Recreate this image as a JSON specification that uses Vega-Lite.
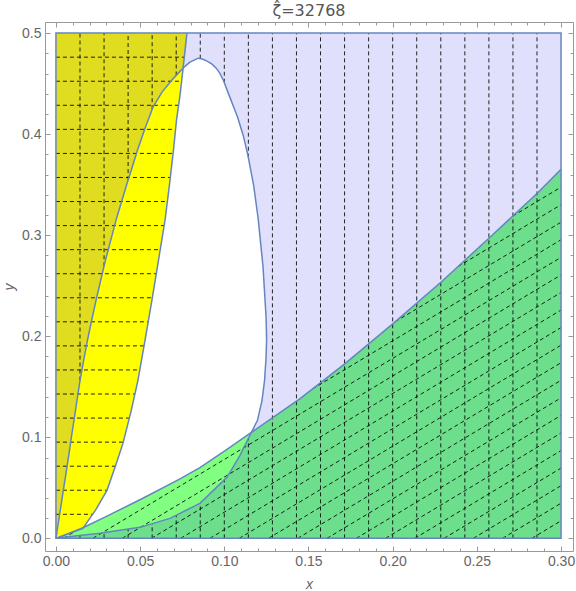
{
  "$schema": "https://vega.github.io/schema/vega-lite/v6.json",
  "width": 528,
  "height": 529,
  "autosize": {"type": "none"},
  "padding": {"left": 45, "top": 22, "right": 3, "bottom": 40},
  "title": {"text": "ζ̂=32768", "fontSize": 16, "font": "DejaVu Sans", "fontWeight": "normal", "color": "#555555", "offset": 3},
  "config": {"view": {"stroke": null}, "axis": {"grid": false}},
  "datasets": {
    "rect": [{"x1": 0, "x2": 0.3, "y1": 0, "y2": 0.5}],
    "G": [
      {"x": 0, "y": 0}, {"x": 0.008, "y": 0.0052}, {"x": 0.016, "y": 0.0105}, {"x": 0.03, "y": 0.0218},
      {"x": 0.0499, "y": 0.0382}, {"x": 0.0737, "y": 0.0588}, {"x": 0.0855, "y": 0.07}, {"x": 0.1016, "y": 0.088},
      {"x": 0.1152, "y": 0.1038}, {"x": 0.145, "y": 0.1383}, {"x": 0.1717, "y": 0.173}, {"x": 0.2002, "y": 0.2125},
      {"x": 0.2293, "y": 0.2545}, {"x": 0.2578, "y": 0.298}, {"x": 0.2857, "y": 0.3412}, {"x": 0.3, "y": 0.3652}
    ],
    "L": [
      {"x": 0, "x0": 0, "y": 0}, {"x": 0.016, "x0": 0, "y": 0.0099}, {"x": 0.0238, "x0": 0, "y": 0.0287}, {"x": 0.0303, "x0": 0, "y": 0.0475},
      {"x": 0.0353, "x0": 0, "y": 0.0713}, {"x": 0.0398, "x0": 0, "y": 0.094}, {"x": 0.0446, "x0": 0, "y": 0.1257}, {"x": 0.0487, "x0": 0, "y": 0.1564},
      {"x": 0.0529, "x0": 0, "y": 0.196}, {"x": 0.057, "x0": 0, "y": 0.2356}, {"x": 0.0609, "x0": 0, "y": 0.2752}, {"x": 0.0648, "x0": 0, "y": 0.3149},
      {"x": 0.0674, "x0": 0, "y": 0.3495}, {"x": 0.0698, "x0": 0, "y": 0.3842}, {"x": 0.0716, "x0": 0, "y": 0.4139}, {"x": 0.0737, "x0": 0, "y": 0.4386},
      {"x": 0.0754, "x0": 0, "y": 0.4634}, {"x": 0.0778, "x0": 0, "y": 0.5}
    ],
    "T": [
      {"y": 0, "xl": 0, "xr": 0}, {"y": 0.002, "xl": 0.0002, "xr": 0.0101}, {"y": 0.005, "xl": 0.0005, "xr": 0.0261},
      {"y": 0.0109, "xl": 0.001, "xr": 0.0499}, {"y": 0.0198, "xl": 0.0018, "xr": 0.0677}, {"y": 0.0347, "xl": 0.0032, "xr": 0.0855},
      {"y": 0.0574, "xl": 0.0053, "xr": 0.0997}, {"y": 0.0604, "xl": 0.0056, "xr": 0.1016}, {"y": 0.0822, "xl": 0.0076, "xr": 0.1093},
      {"y": 0.104, "xl": 0.0095, "xr": 0.1158}, {"y": 0.1069, "xl": 0.0098, "xr": 0.1167}, {"y": 0.1168, "xl": 0.0107, "xr": 0.1197},
      {"y": 0.1366, "xl": 0.0125, "xr": 0.1224}, {"y": 0.1564, "xl": 0.0143, "xr": 0.1239}, {"y": 0.1792, "xl": 0.0168, "xr": 0.1248},
      {"y": 0.196, "xl": 0.0187, "xr": 0.1251}, {"y": 0.199, "xl": 0.0191, "xr": 0.1251}, {"y": 0.2188, "xl": 0.0216, "xr": 0.1248},
      {"y": 0.2356, "xl": 0.0238, "xr": 0.1242}, {"y": 0.2683, "xl": 0.0284, "xr": 0.123}, {"y": 0.2752, "xl": 0.0294, "xr": 0.1226},
      {"y": 0.3149, "xl": 0.0357, "xr": 0.1202}, {"y": 0.3178, "xl": 0.0362, "xr": 0.12}, {"y": 0.3495, "xl": 0.0419, "xr": 0.1174},
      {"y": 0.3792, "xl": 0.0475, "xr": 0.114}, {"y": 0.3842, "xl": 0.0484, "xr": 0.1133}, {"y": 0.399, "xl": 0.0515, "xr": 0.1112},
      {"y": 0.4059, "xl": 0.0529, "xr": 0.1099}, {"y": 0.4168, "xl": 0.0554, "xr": 0.1079}, {"y": 0.4267, "xl": 0.0576, "xr": 0.1056},
      {"y": 0.4327, "xl": 0.0598, "xr": 0.1042}, {"y": 0.4416, "xl": 0.063, "xr": 0.1021}, {"y": 0.4426, "xl": 0.0635, "xr": 0.1019},
      {"y": 0.4535, "xl": 0.0689, "xr": 0.0994}, {"y": 0.4604, "xl": 0.0727, "xr": 0.0973}, {"y": 0.4653, "xl": 0.0754, "xr": 0.0952},
      {"y": 0.4693, "xl": 0.0782, "xr": 0.0927}, {"y": 0.4713, "xl": 0.0796, "xr": 0.0907}, {"y": 0.4723, "xl": 0.0808, "xr": 0.0897},
      {"y": 0.4743, "xl": 0.0833, "xr": 0.087}, {"y": 0.4752, "xl": 0.0844, "xr": 0.0844}
    ],
    "Y": [
      {"y": 0, "xl": 0, "xr": 0}, {"y": 0.0099, "xl": 0.0009, "xr": 0.016}, {"y": 0.0287, "xl": 0.0026, "xr": 0.0238},
      {"y": 0.0475, "xl": 0.0044, "xr": 0.0303}, {"y": 0.0713, "xl": 0.0066, "xr": 0.0353}, {"y": 0.094, "xl": 0.0086, "xr": 0.0398},
      {"y": 0.1257, "xl": 0.0115, "xr": 0.0446}, {"y": 0.1564, "xl": 0.0143, "xr": 0.0487}, {"y": 0.196, "xl": 0.0187, "xr": 0.0529},
      {"y": 0.2356, "xl": 0.0238, "xr": 0.057}, {"y": 0.2752, "xl": 0.0294, "xr": 0.0609}, {"y": 0.3149, "xl": 0.0357, "xr": 0.0648},
      {"y": 0.3495, "xl": 0.0419, "xr": 0.0674}, {"y": 0.3842, "xl": 0.0484, "xr": 0.0698}, {"y": 0.4139, "xl": 0.0547, "xr": 0.0716},
      {"y": 0.4267, "xl": 0.0576, "xr": 0.0727}, {"y": 0.4386, "xl": 0.0619, "xr": 0.0737}, {"y": 0.4535, "xl": 0.0689, "xr": 0.0747},
      {"y": 0.4634, "xl": 0.0744, "xr": 0.0754}, {"y": 0.4655, "xl": 0.0755, "xr": 0.0755}
    ],
    "BG": [
      {"x": 0, "yt": 0, "yb": 0}, {"x": 0.0101, "yt": 0.0066, "yb": 0.002}, {"x": 0.016, "yt": 0.0105, "yb": 0.0031},
      {"x": 0.0261, "yt": 0.0187, "yb": 0.005}, {"x": 0.0499, "yt": 0.0382, "yb": 0.0109}, {"x": 0.0677, "yt": 0.0536, "yb": 0.0198},
      {"x": 0.0737, "yt": 0.0588, "yb": 0.0248}, {"x": 0.0855, "yt": 0.07, "yb": 0.0347}, {"x": 0.1016, "yt": 0.088, "yb": 0.0604},
      {"x": 0.1093, "yt": 0.0969, "yb": 0.0822}, {"x": 0.1152, "yt": 0.1038, "yb": 0.102}, {"x": 0.1156, "yt": 0.1041, "yb": 0.1041}
    ],
    "mesh": [
      {"x1": 0.014286, "y1": 0, "x2": 0.014286, "y2": 0.0028}, {"x1": 0.014286, "y1": 0.1562, "x2": 0.014286, "y2": 0.5},
      {"x1": 0.028571, "y1": 0, "x2": 0.028571, "y2": 0.0056}, {"x1": 0.028571, "y1": 0.2693, "x2": 0.028571, "y2": 0.5},
      {"x1": 0.042857, "y1": 0, "x2": 0.042857, "y2": 0.0092}, {"x1": 0.042857, "y1": 0.3546, "x2": 0.042857, "y2": 0.5},
      {"x1": 0.057143, "y1": 0, "x2": 0.057143, "y2": 0.0145}, {"x1": 0.057143, "y1": 0.4247, "x2": 0.057143, "y2": 0.5},
      {"x1": 0.071429, "y1": 0, "x2": 0.071429, "y2": 0.0229}, {"x1": 0.071429, "y1": 0.4581, "x2": 0.071429, "y2": 0.5},
      {"x1": 0.085714, "y1": 0, "x2": 0.085714, "y2": 0.035}, {"x1": 0.085714, "y1": 0.4747, "x2": 0.085714, "y2": 0.5},
      {"x1": 0.1, "y1": 0, "x2": 0.1, "y2": 0.0578}, {"x1": 0.1, "y1": 0.4509, "x2": 0.1, "y2": 0.5},
      {"x1": 0.114286, "y1": 0, "x2": 0.114286, "y2": 0.0989}, {"x1": 0.114286, "y1": 0.3767, "x2": 0.114286, "y2": 0.5},
      {"x1": 0.128571, "y1": 0, "x2": 0.128571, "y2": 0.5}, {"x1": 0.142857, "y1": 0, "x2": 0.142857, "y2": 0.5},
      {"x1": 0.157143, "y1": 0, "x2": 0.157143, "y2": 0.5}, {"x1": 0.171429, "y1": 0, "x2": 0.171429, "y2": 0.5},
      {"x1": 0.185714, "y1": 0, "x2": 0.185714, "y2": 0.5}, {"x1": 0.2, "y1": 0, "x2": 0.2, "y2": 0.5},
      {"x1": 0.214286, "y1": 0, "x2": 0.214286, "y2": 0.5}, {"x1": 0.228571, "y1": 0, "x2": 0.228571, "y2": 0.5},
      {"x1": 0.242857, "y1": 0, "x2": 0.242857, "y2": 0.5}, {"x1": 0.257143, "y1": 0, "x2": 0.257143, "y2": 0.5},
      {"x1": 0.271429, "y1": 0, "x2": 0.271429, "y2": 0.5}, {"x1": 0.285714, "y1": 0, "x2": 0.285714, "y2": 0.5},
      {"x1": 0, "y1": 0.02381, "x2": 0.0218, "y2": 0.02381}, {"x1": 0, "y1": 0.04762, "x2": 0.0303, "y2": 0.04762},
      {"x1": 0, "y1": 0.07143, "x2": 0.0353, "y2": 0.07143}, {"x1": 0, "y1": 0.09524, "x2": 0.04, "y2": 0.09524},
      {"x1": 0, "y1": 0.11905, "x2": 0.0436, "y2": 0.11905}, {"x1": 0, "y1": 0.14286, "x2": 0.0469, "y2": 0.14286},
      {"x1": 0, "y1": 0.16667, "x2": 0.0498, "y2": 0.16667}, {"x1": 0, "y1": 0.19048, "x2": 0.0523, "y2": 0.19048},
      {"x1": 0, "y1": 0.21429, "x2": 0.0548, "y2": 0.21429}, {"x1": 0, "y1": 0.2381, "x2": 0.0572, "y2": 0.2381},
      {"x1": 0, "y1": 0.2619, "x2": 0.0596, "y2": 0.2619}, {"x1": 0, "y1": 0.28571, "x2": 0.0619, "y2": 0.28571},
      {"x1": 0, "y1": 0.30952, "x2": 0.0643, "y2": 0.30952}, {"x1": 0, "y1": 0.33333, "x2": 0.0662, "y2": 0.33333},
      {"x1": 0, "y1": 0.35714, "x2": 0.0679, "y2": 0.35714}, {"x1": 0, "y1": 0.38095, "x2": 0.0696, "y2": 0.38095},
      {"x1": 0, "y1": 0.40476, "x2": 0.071, "y2": 0.40476}, {"x1": 0, "y1": 0.42857, "x2": 0.0728, "y2": 0.42857},
      {"x1": 0, "y1": 0.45238, "x2": 0.0749, "y2": 0.45238}, {"x1": 0, "y1": 0.47619, "x2": 0.0762, "y2": 0.47619},
      {"x1": 0.28262, "y1": 0, "x2": 0.3, "y2": 0.01738}, {"x1": 0.26524, "y1": 0, "x2": 0.3, "y2": 0.03476},
      {"x1": 0.24786, "y1": 0, "x2": 0.3, "y2": 0.05214}, {"x1": 0.23048, "y1": 0, "x2": 0.3, "y2": 0.06952},
      {"x1": 0.2131, "y1": 0, "x2": 0.3, "y2": 0.0869}, {"x1": 0.19571, "y1": 0, "x2": 0.3, "y2": 0.10429},
      {"x1": 0.17833, "y1": 0, "x2": 0.3, "y2": 0.12167}, {"x1": 0.16095, "y1": 0, "x2": 0.3, "y2": 0.13905},
      {"x1": 0.14357, "y1": 0, "x2": 0.3, "y2": 0.15643}, {"x1": 0.12619, "y1": 0, "x2": 0.3, "y2": 0.17381},
      {"x1": 0.10881, "y1": 0, "x2": 0.3, "y2": 0.19119}, {"x1": 0.09143, "y1": 0, "x2": 0.3, "y2": 0.20857},
      {"x1": 0.07405, "y1": 0, "x2": 0.3, "y2": 0.22595}, {"x1": 0.05667, "y1": 0, "x2": 0.3, "y2": 0.24333},
      {"x1": 0.03929, "y1": 0, "x2": 0.3, "y2": 0.26071}, {"x1": 0.0219, "y1": 0, "x2": 0.3, "y2": 0.2781},
      {"x1": 0.00452, "y1": 0, "x2": 0.0131, "y2": 0.0086}, {"x1": 0.1523, "y1": 0.1478, "x2": 0.3, "y2": 0.2955},
      {"x1": 0.2015, "y1": 0.2144, "x2": 0.3, "y2": 0.3129}, {"x1": 0.2389, "y1": 0.2691, "x2": 0.3, "y2": 0.3302},
      {"x1": 0.2713, "y1": 0.3189, "x2": 0.3, "y2": 0.3476}
    ]
  },
  "resolve": {"axis": {"x": "independent", "y": "independent"}},
  "layer": [
    {
      "data": {"name": "rect"},
      "mark": {"type": "rect", "fill": "#e0e0fc"},
      "encoding": {
        "x": {"field": "x1", "type": "quantitative", "scale": {"domain": [-0.0065, 0.3071], "nice": false, "zero": false},
          "axis": {"orient": "bottom", "values": [0, 0.05, 0.1, 0.15, 0.2, 0.25, 0.3], "format": ".2f", "tickSize": -5, "labelPadding": 8,
            "domainColor": "#999999", "tickColor": "#999999", "labelColor": "#666666", "labelFont": "Liberation Sans", "labelFontSize": 14,
            "title": "x", "titleFont": "Liberation Sans", "titleFontSize": 14, "titleFontStyle": "italic", "titleFontWeight": "normal", "titleColor": "#666666", "titlePadding": 9}},
        "x2": {"field": "x2"},
        "y": {"field": "y1", "type": "quantitative", "scale": {"domain": [-0.0125, 0.511], "nice": false, "zero": false},
          "axis": {"orient": "left", "values": [0, 0.1, 0.2, 0.3, 0.4, 0.5], "format": ".1f", "tickSize": -5, "labelPadding": 9,
            "domainColor": "#999999", "tickColor": "#999999", "labelColor": "#666666", "labelFont": "Liberation Sans", "labelFontSize": 14,
            "title": "y", "titleFont": "Liberation Sans", "titleFontSize": 14, "titleFontStyle": "italic", "titleFontWeight": "normal", "titleColor": "#666666", "titlePadding": 5}},
        "y2": {"field": "y2"}
      }
    },
    {
      "data": {"name": "G"},
      "mark": {"type": "area", "orient": "vertical", "fill": "#6ddf8c"},
      "encoding": {
        "x": {"field": "x", "type": "quantitative", "scale": {"domain": [-0.0065, 0.3071], "nice": false, "zero": false},
          "axis": {"orient": "top", "values": [0, 0.05, 0.1, 0.15, 0.2, 0.25, 0.3], "labels": false, "tickSize": -5, "domainColor": "#999999", "tickColor": "#999999", "title": null}},
        "y": {"field": "y", "type": "quantitative", "scale": {"domain": [-0.0125, 0.511], "nice": false, "zero": false},
          "axis": {"orient": "right", "values": [0, 0.1, 0.2, 0.3, 0.4, 0.5], "labels": false, "tickSize": -5, "domainColor": "#999999", "tickColor": "#999999", "title": null}},
        "y2": {"datum": 0}
      }
    },
    {
      "data": {"name": "L"},
      "mark": {"type": "area", "orient": "horizontal", "fill": "#e0dd20"},
      "encoding": {
        "y": {"field": "y", "type": "quantitative", "scale": {"domain": [-0.0125, 0.511], "nice": false, "zero": false},
          "axis": {"orient": "left", "values": [0.02, 0.04, 0.06, 0.08, 0.12, 0.14, 0.16, 0.18, 0.22, 0.24, 0.26, 0.28, 0.32, 0.34, 0.36, 0.38, 0.42, 0.44, 0.46, 0.48], "labels": false, "domain": false, "tickSize": -3, "tickColor": "#999999", "title": null}},
        "x": {"field": "x", "type": "quantitative", "scale": {"domain": [-0.0065, 0.3071], "nice": false, "zero": false},
          "axis": {"orient": "bottom", "values": [0.01, 0.02, 0.03, 0.04, 0.06, 0.07, 0.08, 0.09, 0.11, 0.12, 0.13, 0.14, 0.16, 0.17, 0.18, 0.19, 0.21, 0.22, 0.23, 0.24, 0.26, 0.27, 0.28, 0.29], "labels": false, "domain": false, "tickSize": -3, "tickColor": "#999999", "title": null}},
        "x2": {"field": "x0"}
      }
    },
    {
      "data": {"name": "T"},
      "mark": {"type": "area", "orient": "horizontal", "fill": "#ffffff"},
      "encoding": {
        "y": {"field": "y", "type": "quantitative", "scale": {"domain": [-0.0125, 0.511], "nice": false, "zero": false},
          "axis": {"orient": "right", "values": [0.02, 0.04, 0.06, 0.08, 0.12, 0.14, 0.16, 0.18, 0.22, 0.24, 0.26, 0.28, 0.32, 0.34, 0.36, 0.38, 0.42, 0.44, 0.46, 0.48], "labels": false, "domain": false, "tickSize": -3, "tickColor": "#999999", "title": null}},
        "x": {"field": "xl", "type": "quantitative", "scale": {"domain": [-0.0065, 0.3071], "nice": false, "zero": false},
          "axis": {"orient": "top", "values": [0.01, 0.02, 0.03, 0.04, 0.06, 0.07, 0.08, 0.09, 0.11, 0.12, 0.13, 0.14, 0.16, 0.17, 0.18, 0.19, 0.21, 0.22, 0.23, 0.24, 0.26, 0.27, 0.28, 0.29], "labels": false, "domain": false, "tickSize": -3, "tickColor": "#999999", "title": null}},
        "x2": {"field": "xr"}
      }
    },
    {
      "data": {"name": "Y"},
      "mark": {"type": "area", "orient": "horizontal", "fill": "#ffff00"},
      "encoding": {
        "y": {"field": "y", "type": "quantitative", "scale": {"domain": [-0.0125, 0.511], "nice": false, "zero": false}, "axis": null},
        "x": {"field": "xl", "type": "quantitative", "scale": {"domain": [-0.0065, 0.3071], "nice": false, "zero": false}, "axis": null},
        "x2": {"field": "xr"}
      }
    },
    {
      "data": {"name": "BG"},
      "mark": {"type": "area", "orient": "vertical", "fill": "#80ff80"},
      "encoding": {
        "x": {"field": "x", "type": "quantitative", "scale": {"domain": [-0.0065, 0.3071], "nice": false, "zero": false}, "axis": null},
        "y": {"field": "yt", "type": "quantitative", "scale": {"domain": [-0.0125, 0.511], "nice": false, "zero": false}, "axis": null},
        "y2": {"field": "yb"}
      }
    },
    {
      "data": {"name": "mesh"},
      "mark": {"type": "rule", "stroke": "#000000", "strokeWidth": 1, "strokeDash": [4, 3], "opacity": 0.85},
      "encoding": {
        "x": {"field": "x1", "type": "quantitative", "scale": {"domain": [-0.0065, 0.3071], "nice": false, "zero": false}, "axis": null},
        "y": {"field": "y1", "type": "quantitative", "scale": {"domain": [-0.0125, 0.511], "nice": false, "zero": false}, "axis": null},
        "x2": {"field": "x2"},
        "y2": {"field": "y2"}
      }
    },
    {
      "data": {"name": "G"},
      "mark": {"type": "line", "stroke": "#6585c0", "strokeWidth": 1.5},
      "encoding": {
        "x": {"field": "x", "type": "quantitative", "scale": {"domain": [-0.0065, 0.3071], "nice": false, "zero": false}, "axis": null},
        "y": {"field": "y", "type": "quantitative", "scale": {"domain": [-0.0125, 0.511], "nice": false, "zero": false}, "axis": null},
        "order": {"field": "x"}
      }
    },
    {
      "data": {"name": "L"},
      "mark": {"type": "line", "stroke": "#6585c0", "strokeWidth": 1.5},
      "encoding": {
        "x": {"field": "x", "type": "quantitative", "scale": {"domain": [-0.0065, 0.3071], "nice": false, "zero": false}, "axis": null},
        "y": {"field": "y", "type": "quantitative", "scale": {"domain": [-0.0125, 0.511], "nice": false, "zero": false}, "axis": null},
        "order": {"field": "y"}
      }
    },
    {
      "data": {"name": "T"},
      "mark": {"type": "line", "stroke": "#6585c0", "strokeWidth": 1.5},
      "encoding": {
        "x": {"field": "xl", "type": "quantitative", "scale": {"domain": [-0.0065, 0.3071], "nice": false, "zero": false}, "axis": null},
        "y": {"field": "y", "type": "quantitative", "scale": {"domain": [-0.0125, 0.511], "nice": false, "zero": false}, "axis": null},
        "order": {"field": "y"}
      }
    },
    {
      "data": {"name": "T"},
      "mark": {"type": "line", "stroke": "#6585c0", "strokeWidth": 1.5},
      "encoding": {
        "x": {"field": "xr", "type": "quantitative", "scale": {"domain": [-0.0065, 0.3071], "nice": false, "zero": false}, "axis": null},
        "y": {"field": "y", "type": "quantitative", "scale": {"domain": [-0.0125, 0.511], "nice": false, "zero": false}, "axis": null},
        "order": {"field": "y"}
      }
    },
    {
      "data": {"name": "rect"},
      "mark": {"type": "rect", "fill": null, "fillOpacity": 0, "stroke": "#6585c0", "strokeWidth": 1.5},
      "encoding": {
        "x": {"field": "x1", "type": "quantitative", "scale": {"domain": [-0.0065, 0.3071], "nice": false, "zero": false}, "axis": null},
        "x2": {"field": "x2"},
        "y": {"field": "y1", "type": "quantitative", "scale": {"domain": [-0.0125, 0.511], "nice": false, "zero": false}, "axis": null},
        "y2": {"field": "y2"}
      }
    }
  ]
}
